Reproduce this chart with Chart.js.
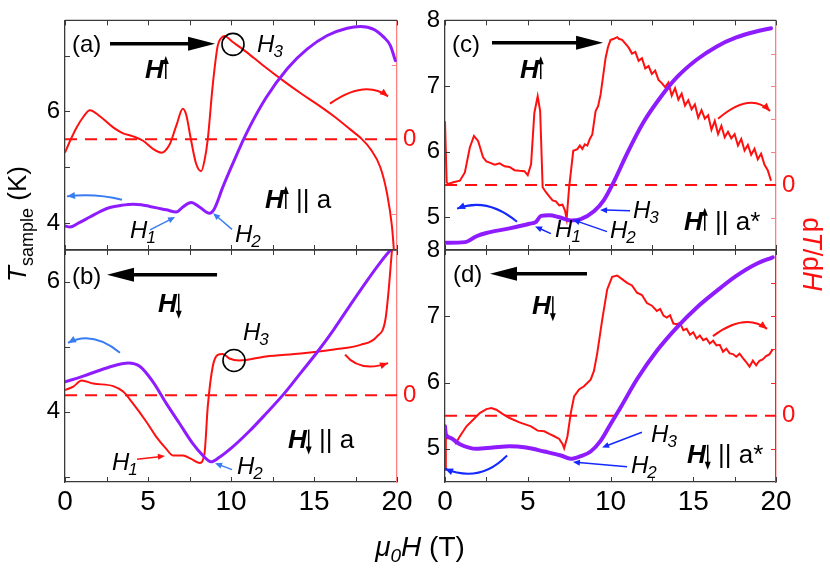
<!DOCTYPE html>
<html>
<head>
<meta charset="utf-8">
<script src="https://cdn.jsdelivr.net/npm/chart.js@4.4.1/dist/chart.umd.min.js"></script>
<style>
  body { margin: 0; background: #fff; }
  #wrap { position: relative; width: 830px; height: 569px; }
  #wrap canvas { position: absolute; left: 0; top: 0; }
</style>
</head>
<body>
<div id="wrap">
  <canvas id="panelA" width="830" height="569"></canvas>
  <canvas id="panelB" width="830" height="569"></canvas>
  <canvas id="panelC" width="830" height="569"></canvas>
  <canvas id="panelD" width="830" height="569"></canvas>
</div>
<script>
// x axis (field, T)
const xLabels = [0, 5, 10, 15, 20];
const xMarks = [0, 2.5, 5, 7.5, 10, 12.5, 15, 17.5, 20];

// (a) H up, H || a
const fieldA = [0, 0.3, 0.8, 1.5, 2.2, 2.7, 3.4, 4.1, 4.6, 5.1, 5.6, 6.1, 6.7, 7.1, 7.6, 8.1, 8.7, 9.0, 9.5, 10.1, 10.9, 12.1, 13.4, 14.6, 15.8, 17.0, 17.8, 18.6, 19.2, 19.6, 19.9];
const tempA = [3.95, 3.93, 4.0, 4.11, 4.22, 4.28, 4.32, 4.34, 4.33, 4.30, 4.27, 4.24, 4.20, 4.29, 4.37, 4.29, 4.18, 4.26, 4.64, 5.06, 5.59, 6.24, 6.77, 7.12, 7.36, 7.49, 7.52, 7.47, 7.33, 7.18, 6.91];
const redFieldA = [0, 0.35, 0.7, 1.1, 1.5, 2.1, 2.9, 3.5, 4.1, 4.7, 5.3, 5.8, 6.3, 6.7, 7.1, 7.3, 7.6, 7.9, 8.2, 8.4, 8.6, 8.9, 9.2, 9.4, 9.6, 10.1, 10.9, 11.9, 13.2, 14.2, 15.2, 16.2, 17.2, 17.8, 18.4, 19.0, 19.4, 19.7, 19.85];
const dtdhA = [-0.18, 0.0, 0.16, 0.3, 0.39, 0.31, 0.16, 0.08, 0.04, -0.02, -0.13, -0.18, -0.07, 0.18, 0.41, 0.33, -0.02, -0.33, -0.43, -0.29, 0, 0.73, 1.26, 1.36, 1.39, 1.31, 1.18, 1.0, 0.78, 0.62, 0.47, 0.31, 0.13, 0.02, -0.13, -0.38, -0.73, -1.18, -1.6];

// (b) H down, H || a
const fieldB = [0, 1.1, 2.1, 3.1, 3.8, 4.5, 5.3, 6.1, 6.9, 7.7, 8.3, 8.8, 9.3, 10.1, 11.1, 12.1, 13.2, 14.2, 15.2, 16.2, 17.2, 18.2, 19.0, 19.6];
const tempB = [4.46, 4.55, 4.64, 4.72, 4.75, 4.70, 4.46, 4.13, 3.82, 3.51, 3.33, 3.23, 3.30, 3.46, 3.70, 3.97, 4.28, 4.60, 4.92, 5.27, 5.65, 6.02, 6.30, 6.49];
const redFieldB = [0, 0.5, 1.0, 1.7, 2.9, 3.5, 4.1, 4.9, 5.5, 6.1, 6.5, 7.1, 7.6, 8.1, 8.4, 8.6, 8.9, 9.2, 9.5, 9.9, 10.5, 12.1, 14.2, 16.2, 17.8, 18.8, 19.3, 19.5, 19.65, 19.75];
const dtdhB = [0.1, 0.17, 0.29, 0.23, 0.18, 0.07, -0.17, -0.53, -0.83, -1.07, -1.2, -1.2, -1.27, -1.35, -1.17, -0.23, 0.57, 0.8, 0.82, 0.73, 0.69, 0.77, 0.83, 0.91, 1.0, 1.17, 1.5, 2.1, 2.7, 3.1];

// (c) H up, H || a*
const fieldC = [0, 1.2, 1.9, 2.5, 3.9, 5.1, 5.5, 5.8, 6.3, 6.9, 7.6, 8.2, 9.0, 9.6, 10.2, 11.0, 12.0, 13.0, 14.0, 15.2, 16.4, 17.6, 18.8, 19.7];
const tempC = [4.61, 4.62, 4.71, 4.76, 4.83, 4.90, 4.93, 5.02, 5.03, 5.0, 4.95, 4.97, 5.09, 5.26, 5.54, 5.97, 6.45, 6.82, 7.13, 7.40, 7.60, 7.74, 7.83, 7.88];
const redFieldC = [0, 0.1, 0.2, 0.5, 0.9, 1.2, 1.5, 1.75, 2.0, 2.3, 2.5, 2.7, 3.0, 3.3, 3.6, 3.9, 4.2, 4.5, 4.8, 5.0, 5.2, 5.4, 5.6, 5.75, 5.9, 6.1, 6.3, 6.5, 6.7, 6.9, 7.1, 7.25, 7.35, 7.5, 7.75, 8.0, 8.15, 8.3, 8.45, 8.6, 8.75, 8.9, 9.1, 9.25, 9.4, 9.55, 9.7, 9.85, 10.0, 10.2, 10.4, 10.5, 10.7, 10.9, 11.1, 11.3, 11.5, 11.7, 11.9, 12.1, 12.3, 12.5, 12.7, 12.9, 13.1, 13.3, 13.5, 13.7, 13.9, 14.1, 14.3, 14.5, 14.7, 14.9, 15.1, 15.3, 15.5, 15.7, 15.9, 16.1, 16.3, 16.5, 16.7, 16.9, 17.1, 17.3, 17.5, 17.7, 17.9, 18.1, 18.3, 18.5, 18.7, 18.9, 19.1, 19.3, 19.5, 19.7];
const dtdhC = [1.94, 0.08, 0.03, 0.08, 0.13, 0.38, 1.14, 1.49, 1.34, 0.84, 0.72, 0.68, 0.62, 0.66, 0.57, 0.55, 0.45, 0.43, 0.42, 0.3, 0.63, 2.2, 2.7, 2.25, -0.07, -0.22, -0.35, -0.47, -0.5, -0.62, -0.6, -0.78, -1.03, -0.07, 1.04, 1.09, 1.2, 1.1, 1.24, 1.2, 1.4, 1.54, 2.25, 2.4, 2.75, 3.3, 3.86, 4.2, 4.41, 4.45, 4.5, 4.45, 4.42, 4.3, 4.18, 4.0, 4.05, 3.78, 3.86, 3.55, 3.62, 3.38, 3.48, 3.2, 3.1, 2.98, 3.12, 2.72, 2.95, 2.6, 2.78, 2.42, 2.58, 2.3, 2.45, 2.05, 2.28, 2.02, 2.12, 1.68, 1.95, 1.55, 1.8, 1.45, 1.62, 1.42, 1.55, 1.2, 1.4, 1.05, 1.22, 0.92, 1.1, 0.78, 0.95, 0.62, 0.45, 0.13];

// (d) H down, H || a*
const fieldD = [0, 0.05, 0.3, 0.9, 1.9, 2.9, 3.9, 4.9, 6.0, 7.0, 7.6, 8.2, 8.8, 9.4, 10.0, 10.6, 11.6, 12.8, 14.0, 15.2, 16.4, 17.6, 18.8, 19.8];
const tempD = [5.34, 5.22, 5.17, 5.07, 5.0, 5.02, 5.04, 5.02, 4.96, 4.90, 4.85, 4.89, 4.96, 5.12, 5.37, 5.62, 6.05, 6.48, 6.83, 7.13, 7.38, 7.61, 7.79, 7.89];
const redFieldD = [0, 0.05, 0.3, 0.5, 0.65, 0.9, 1.3, 1.7, 2.1, 2.5, 2.8, 3.1, 3.5, 3.9, 4.5, 5.2, 5.6, 6.0, 6.3, 6.6, 6.9, 7.1, 7.2, 7.4, 7.6, 7.8, 8.1, 8.4, 8.8, 9.0, 9.2, 9.5, 9.8, 10.1, 10.4, 10.7, 11.0, 11.3, 11.6, 11.9, 12.2, 12.5, 12.8, 13.0, 13.2, 13.4, 13.6, 13.8, 14.0, 14.2, 14.4, 14.6, 14.8, 15.0, 15.2, 15.4, 15.6, 15.8, 16.0, 16.2, 16.4, 16.6, 16.8, 17.0, 17.2, 17.4, 17.6, 17.8, 18.0, 18.2, 18.4, 18.6, 18.8, 19.0, 19.2, 19.4, 19.6, 19.8];
const dtdhD = [-1.63, -0.67, -0.68, -0.72, -0.83, -0.62, -0.32, -0.12, 0.08, 0.2, 0.23, 0.18, 0.05, -0.07, -0.2, -0.32, -0.45, -0.47, -0.55, -0.62, -0.7, -0.85, -0.98, -0.62, 0.08, 0.58, 0.79, 0.89, 1.09, 1.35, 1.89, 2.9, 3.81, 4.19, 4.23, 4.12, 4.01, 3.93, 3.71, 3.64, 3.4, 3.32, 3.16, 3.22, 3.02, 2.96, 3.03, 2.78, 2.76, 2.8, 2.58, 2.62, 2.44, 2.52, 2.33, 2.42, 2.28, 2.33, 2.18, 2.26, 2.12, 2.14, 1.93, 2.02, 1.88, 1.86, 1.78, 1.87, 1.74, 1.62, 1.48, 1.66, 1.52, 1.66, 1.7, 1.8, 1.85, 2.0];

const FONT = '"Liberation Sans", Arial, sans-serif';
const FRAME = '#3a3a3a';
const RED = '#ff1010';
const PURPLE = '#8f1cff';
const BLUE_LIGHT = '#3a7cf2';
const BLUE_DARK = '#1428ff';

// annotations, in data units (field T, temperature K)
const notesA = [
  { t: 'text', x: 0.42, y: 7.06, s: '(a)' },
  { t: 'arrow', x1: 2.71, y1: 7.21, x2: 9.04, y2: 7.21, color: '#000', w: 3.5, hl: 27, hw: 7 },
  { t: 'field', x: 4.82, y: 6.60, dir: 'up', tail: '' },
  { t: 'circle', x: 10.12, y: 7.20 },
  { t: 'sub', x: 11.57, y: 7.06, sub: '3' },
  { t: 'curve', x1: 15.96, y1: 6.14, cx: 18.07, cy: 6.58, x2: 19.46, y2: 6.27, color: RED },
  { t: 'curve', x1: 3.43, y1: 4.42, cx: 1.81, cy: 4.54, x2: 0.12, y2: 4.48, color: BLUE_LIGHT },
  { t: 'field', x: 12.05, y: 4.27, dir: 'up', tail: ' || a' },
  { t: 'sub', x: 3.92, y: 3.73, sub: '1' },
  { t: 'arrow', x1: 5.12, y1: 3.88, x2: 6.63, y2: 4.11, color: BLUE_LIGHT, w: 1.5, hl: 7, hw: 3 },
  { t: 'sub', x: 10.24, y: 3.66, sub: '2' },
  { t: 'arrow', x1: 10.06, y1: 3.89, x2: 8.92, y2: 4.18, color: BLUE_LIGHT, w: 1.5, hl: 7, hw: 3 },
];
const notesB = [
  { t: 'text', x: 0.42, y: 5.97, s: '(b)' },
  { t: 'arrow', x1: 9.16, y1: 6.11, x2: 2.53, y2: 6.11, color: '#000', w: 3.5, hl: 27, hw: 7 },
  { t: 'field', x: 5.6, y: 5.54, dir: 'down', tail: '' },
  { t: 'circle', x: 10.18, y: 4.79 },
  { t: 'sub', x: 10.72, y: 5.11, sub: '3' },
  { t: 'curve', x1: 3.31, y1: 4.91, cx: 1.63, cy: 5.26, x2: 0.18, y2: 5.06, color: BLUE_LIGHT },
  { t: 'curve', x1: 16.87, y1: 4.88, cx: 17.77, cy: 4.60, x2: 19.46, y2: 4.75, color: RED },
  { t: 'field', x: 13.43, y: 3.45, dir: 'down', tail: ' || a' },
  { t: 'sub', x: 2.83, y: 3.10, sub: '1' },
  { t: 'arrow', x1: 4.34, y1: 3.27, x2: 6.02, y2: 3.32, color: RED, w: 1.5, hl: 7, hw: 3 },
  { t: 'sub', x: 10.36, y: 3.05, sub: '2' },
  { t: 'arrow', x1: 10.06, y1: 3.11, x2: 9.04, y2: 3.21, color: BLUE_LIGHT, w: 1.5, hl: 7, hw: 3 },
];
const notesC = [
  { t: 'text', x: 0.42, y: 7.52, s: '(c)' },
  { t: 'arrow', x1: 2.84, y1: 7.66, x2: 9.55, y2: 7.66, color: '#000', w: 3.5, hl: 27, hw: 7 },
  { t: 'field', x: 4.53, y: 7.12, dir: 'up', tail: '' },
  { t: 'curve', x1: 4.35, y1: 4.93, cx: 2.54, cy: 5.31, x2: 0.73, y2: 5.13, color: BLUE_DARK },
  { t: 'curve', x1: 16.5, y1: 6.50, cx: 18.43, cy: 6.92, x2: 19.64, y2: 6.62, color: RED },
  { t: 'sub', x: 6.65, y: 4.70, sub: '1' },
  { t: 'arrow', x1: 6.4, y1: 4.75, x2: 5.44, y2: 4.86, color: BLUE_DARK, w: 1.5, hl: 7, hw: 3 },
  { t: 'sub', x: 9.97, y: 4.69, sub: '2' },
  { t: 'arrow', x1: 9.79, y1: 4.78, x2: 7.73, y2: 4.96, color: BLUE_DARK, w: 1.5, hl: 7, hw: 3 },
  { t: 'sub', x: 11.36, y: 4.99, sub: '3' },
  { t: 'arrow', x1: 11.18, y1: 5.10, x2: 9.37, y2: 5.11, color: BLUE_DARK, w: 1.5, hl: 7, hw: 3 },
  { t: 'field', x: 14.44, y: 4.81, dir: 'up', tail: ' || a*' },
];
const notesD = [
  { t: 'text', x: 0.48, y: 7.51, s: '(d)' },
  { t: 'arrow', x1: 8.58, y1: 7.64, x2: 2.72, y2: 7.64, color: '#000', w: 3.5, hl: 27, hw: 7 },
  { t: 'field', x: 5.26, y: 7.03, dir: 'down', tail: '' },
  { t: 'curve', x1: 16.19, y1: 6.70, cx: 18.13, cy: 7.06, x2: 19.46, y2: 6.81, color: RED },
  { t: 'curve', x1: 3.75, y1: 4.90, cx: 2.11, cy: 4.48, x2: 0.0, y2: 4.70, color: BLUE_DARK },
  { t: 'sub', x: 12.45, y: 5.10, sub: '3' },
  { t: 'arrow', x1: 11.9, y1: 5.25, x2: 9.49, y2: 5.02, color: BLUE_DARK, w: 1.5, hl: 7, hw: 3 },
  { t: 'sub', x: 11.24, y: 4.64, sub: '2' },
  { t: 'arrow', x1: 11.0, y1: 4.73, x2: 7.73, y2: 4.80, color: BLUE_DARK, w: 1.5, hl: 7, hw: 3 },
  { t: 'field', x: 14.62, y: 4.79, dir: 'down', tail: ' || a*' },
];

function zip(xs, ys) {
  return xs.map((x, i) => ({ x: x, y: ys[i] }));
}

function arrowHead(ctx, x, y, ang, hl, hw) {
  const c = Math.cos(ang), s = Math.sin(ang);
  ctx.beginPath();
  ctx.moveTo(x, y);
  ctx.lineTo(x - hl * c + hw * s, y - hl * s - hw * c);
  ctx.lineTo(x - hl * c - hw * s, y - hl * s + hw * c);
  ctx.closePath();
  ctx.fill();
}

function drawNote(ctx, n, X, Y) {
  const col = n.color || '#000';
  ctx.fillStyle = col;
  ctx.strokeStyle = col;
  ctx.textAlign = 'left';
  ctx.textBaseline = 'alphabetic';
  if (n.t === 'text') {
    ctx.font = '24px ' + FONT;
    ctx.fillText(n.s, X(n.x), Y(n.y));
  } else if (n.t === 'sub') {
    const px = X(n.x), py = Y(n.y);
    ctx.font = 'italic 24px ' + FONT;
    ctx.fillText('H', px, py);
    const w = ctx.measureText('H').width;
    ctx.font = 'italic 17px ' + FONT;
    ctx.fillText(n.sub, px + w - 1, py + 5);
  } else if (n.t === 'field') {
    const px = X(n.x), py = Y(n.y);
    ctx.font = 'italic bold 26px ' + FONT;
    ctx.fillText('H', px, py);
    const ax = px + ctx.measureText('H').width + 2;
    ctx.lineWidth = 1.5;
    ctx.beginPath();
    if (n.dir === 'up') {
      ctx.moveTo(ax, py + 1); ctx.lineTo(ax, py - 15); ctx.stroke();
      arrowHead(ctx, ax, py - 22, -Math.PI / 2, 8, 3);
    } else {
      ctx.moveTo(ax, py - 18); ctx.lineTo(ax, py); ctx.stroke();
      arrowHead(ctx, ax, py + 7, Math.PI / 2, 8, 3);
    }
    if (n.tail) {
      ctx.font = '26px ' + FONT;
      ctx.fillText(n.tail, ax + 3, py);
    }
  } else if (n.t === 'circle') {
    ctx.lineWidth = 1.6;
    ctx.beginPath();
    ctx.arc(X(n.x), Y(n.y), 11, 0, Math.PI * 2);
    ctx.stroke();
  } else if (n.t === 'arrow') {
    const x1 = X(n.x1), y1 = Y(n.y1), x2 = X(n.x2), y2 = Y(n.y2);
    const ang = Math.atan2(y2 - y1, x2 - x1);
    ctx.lineWidth = n.w;
    ctx.beginPath();
    ctx.moveTo(x1, y1);
    ctx.lineTo(x2 - 0.8 * n.hl * Math.cos(ang), y2 - 0.8 * n.hl * Math.sin(ang));
    ctx.stroke();
    arrowHead(ctx, x2, y2, ang, n.hl, n.hw);
  } else if (n.t === 'curve') {
    const x1 = X(n.x1), y1 = Y(n.y1), cx = X(n.cx), cy = Y(n.cy), x2 = X(n.x2), y2 = Y(n.y2);
    ctx.lineWidth = 2;
    ctx.beginPath();
    ctx.moveTo(x1, y1);
    ctx.quadraticCurveTo(cx, cy, x2, y2);
    ctx.stroke();
    arrowHead(ctx, x2, y2, Math.atan2(y2 - cy, x2 - cx), 8, 3.5);
  }
}

// frame, inward ticks and annotations for one panel
function decor(p) {
  return {
    id: 'decor',
    afterDraw(chart) {
      const { ctx, chartArea: a, scales } = chart;
      const X = v => scales.x.getPixelForValue(v);
      const Y = v => scales.y.getPixelForValue(v);
      const R = v => scales.y2.getPixelForValue(v);
      const seg = (x1, y1, x2, y2) => { ctx.beginPath(); ctx.moveTo(x1, y1); ctx.lineTo(x2, y2); ctx.stroke(); };
      ctx.save();
      ctx.strokeStyle = FRAME;
      ctx.lineWidth = 1.3;
      seg(a.left, a.top, a.right, a.top);
      ctx.lineWidth = 1;
      xMarks.forEach(v => {
        const px = Math.round(X(v)) + 0.5;
        seg(px, a.bottom, px, a.bottom - 5);
        seg(px, a.top, px, a.top + 5);
      });
      p.tMarks.forEach(v => {
        const py = Math.round(Y(v)) + 0.5;
        seg(a.left, py, a.left + 5, py);
      });
      ctx.strokeStyle = p.spine;
      p.rMarks.forEach(v => {
        const py = Math.round(R(v)) + 0.5;
        seg(a.right, py, a.right - 5, py);
      });
      p.notes.forEach(n => drawNote(ctx, n, X, Y));
      ctx.restore();
    }
  };
}

function drawParts(ctx, parts, x, y) {
  let total = 0;
  parts.forEach(q => { ctx.font = q.font; q.w = ctx.measureText(q.s).width; total += q.w; });
  let cx = x - total / 2;
  parts.forEach(q => { ctx.font = q.font; ctx.fillText(q.s, cx, y + (q.dy || 0)); cx += q.w; });
}

// axis titles shared by the four panels
const figureLabels = {
  id: 'figureLabels',
  afterDraw(chart) {
    const ctx = chart.ctx;
    ctx.save();
    ctx.textBaseline = 'alphabetic';
    ctx.fillStyle = '#000';
    ctx.save();
    ctx.translate(26, 224);
    ctx.rotate(-Math.PI / 2);
    drawParts(ctx, [
      { s: 'T', font: 'italic 26px ' + FONT },
      { s: 'sample', font: '18px ' + FONT, dy: 7 },
      { s: ' (K)', font: '26px ' + FONT }
    ], 0, 0);
    ctx.restore();
    ctx.save();
    ctx.fillStyle = RED;
    ctx.translate(803, 254);
    ctx.rotate(Math.PI / 2);
    drawParts(ctx, [
      { s: 'd', font: '27px ' + FONT },
      { s: 'T', font: 'italic 27px ' + FONT },
      { s: '/d', font: '27px ' + FONT },
      { s: 'H', font: 'italic 27px ' + FONT }
    ], 0, 0);
    ctx.restore();
    drawParts(ctx, [
      { s: '\u03bc', font: 'italic 28px ' + FONT },
      { s: '0', font: 'italic 19px ' + FONT, dy: 6 },
      { s: 'H', font: 'italic 28px ' + FONT },
      { s: ' (T)', font: '28px ' + FONT }
    ], 420, 556);
    ctx.restore();
  }
};

const PANELS = [
  { id: 'panelA', area: [65, 397, 18, 250], showX: false, tRange: [3.52, 7.63], tLabels: [4, 6], tMarks: [4, 5, 6, 7],
    rRange: [-1.49, 1.6], rMarks: [-1, 1], spine: '#ff7f7f', purpleWidth: 3, smooth: true,
    field: fieldA, temp: tempA, redField: redFieldA, red: dtdhA, notes: notesA },
  { id: 'panelB', area: [65, 397, 250, 482], showX: true, tRange: [2.92, 6.49], tLabels: [4, 6], tMarks: [3, 4, 5, 6],
    rRange: [-1.73, 2.89], rMarks: [], spine: '#ff7f7f', purpleWidth: 3, smooth: true,
    field: fieldB, temp: tempB, redField: redFieldB, red: dtdhB, notes: notesB },
  { id: 'panelC', area: [445, 776, 18, 250], showX: false, tRange: [4.5, 8.0], tLabels: [5, 6, 7, 8], tMarks: [5, 6, 7],
    rRange: [-1.98, 5.01], rMarks: [-1, 1, 2, 3, 4], spine: '#ff7f7f', purpleWidth: 4, smooth: false,
    field: fieldC, temp: tempC, redField: redFieldC, red: dtdhC, notes: notesC },
  { id: 'panelD', area: [445, 776, 250, 482], showX: true, tRange: [4.5, 8.0], tLabels: [5, 6, 7, 8], tMarks: [5, 6, 7],
    rRange: [-2.0, 5.0], rMarks: [-1, 1, 2, 3, 4], spine: '#ff2020', purpleWidth: 4, smooth: false,
    field: fieldD, temp: tempD, redField: redFieldD, red: dtdhD, notes: notesD },
];

PANELS.forEach(p => {
  const xH = p.showX ? 30 : 0;
  const plugins = [decor(p)];
  if (p.id === 'panelD') plugins.push(figureLabels);
  new Chart(document.getElementById(p.id), {
    type: 'line',
    data: {
      datasets: [
        { data: zip(p.field, p.temp), yAxisID: 'y', borderColor: PURPLE, borderWidth: p.purpleWidth,
          pointRadius: 0, cubicInterpolationMode: 'monotone', borderCapStyle: 'round' },
        { data: zip(p.redField, p.red), yAxisID: 'y2', borderColor: RED, borderWidth: 2, pointRadius: 0,
          cubicInterpolationMode: p.smooth ? 'monotone' : 'default', tension: 0 },
        { data: [{ x: 0, y: 0 }, { x: 20, y: 0 }], yAxisID: 'y2', borderColor: RED, borderWidth: 2,
          borderDash: [12, 8], pointRadius: 0 }
      ]
    },
    options: {
      responsive: false,
      animation: false,
      events: [],
      layout: {
        padding: { left: p.area[0] - 40, right: 830 - p.area[1] - 30, top: p.area[2], bottom: 569 - p.area[3] - xH }
      },
      plugins: { legend: { display: false }, tooltip: { enabled: false } },
      scales: {
        x: {
          type: 'linear', min: 0, max: 20,
          grid: { display: false, drawTicks: false },
          border: { color: FRAME, width: 1.3 },
          ticks: { display: p.showX, font: { family: FONT, size: 28 }, color: '#000', padding: 3, maxRotation: 0 },
          afterBuildTicks: s => { s.ticks = xLabels.map(v => ({ value: v })); },
          afterFit: s => { s.height = xH; }
        },
        y: {
          position: 'left', min: p.tRange[0], max: p.tRange[1],
          grid: { display: false, drawTicks: false },
          border: { color: FRAME, width: 1.3 },
          ticks: { font: { family: FONT, size: 24 }, color: '#000', padding: 5 },
          afterBuildTicks: s => { s.ticks = p.tLabels.map(v => ({ value: v })); },
          afterFit: s => { s.width = 40; }
        },
        y2: {
          position: 'right', min: p.rRange[0], max: p.rRange[1],
          grid: { display: false, drawTicks: false },
          border: { color: p.spine, width: 1.3 },
          ticks: { font: { family: FONT, size: 24 }, color: RED, padding: 6 },
          afterBuildTicks: s => { s.ticks = [{ value: 0 }]; },
          afterFit: s => { s.width = 30; }
        }
      }
    },
    plugins: plugins
  });
});
</script>
</body>
</html>
